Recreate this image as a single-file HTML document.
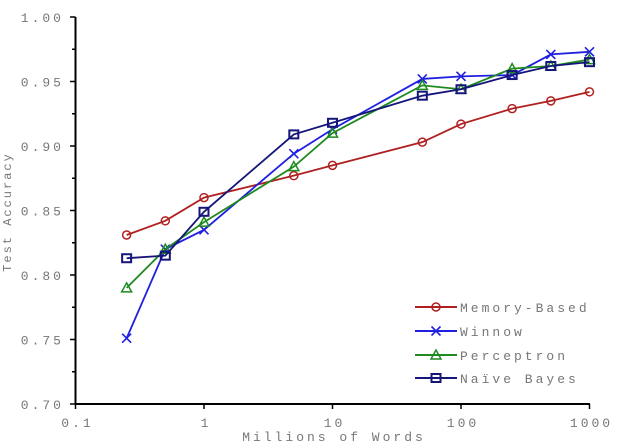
<!DOCTYPE html>
<html><head><meta charset="utf-8"><style>
html,body{margin:0;padding:0;background:#fff;width:640px;height:447px;overflow:hidden}
text{font-family:"Liberation Mono",monospace;fill:#777;letter-spacing:3px}
</style></head><body>
<svg id="s" width="640" height="447" xmlns="http://www.w3.org/2000/svg"></svg>
<script>
const s=document.getElementById('s');
const X=v=>75.5+128.5*(Math.log10(v)+1);
const Y=v=>17+(1-v)/0.3*387;
let h='';
h+='<line x1="75.5" y1="17" x2="75.5" y2="404" stroke="#000" stroke-width="2"/>';
h+='<line x1="75.5" y1="404" x2="590" y2="404" stroke="#000" stroke-width="2"/>';
for(let i=0;i<=12;i++){const v=0.7+i*0.025,y=Y(v);const maj=i%2==0;
h+=`<line x1="${maj?70:72}" y1="${y}" x2="75.5" y2="${y}" stroke="#000" stroke-width="1.5"/>`;
if(maj)h+=`<text x="64" y="${y+5}" font-size="13" text-anchor="end">${v.toFixed(2)}</text>`;}
[0.1,1,10,100,1000].forEach(v=>{const x=X(v);h+=`<line x1="${x}" y1="404" x2="${x}" y2="409" stroke="#000" stroke-width="1.5"/><text x="${x+2}" y="427" font-size="13" text-anchor="middle">${v}</text>`;});
h+='<text x="334" y="441" font-size="13" text-anchor="middle">Millions of Words</text>';
h+='<text transform="translate(11,212) rotate(-90)" font-size="12" text-anchor="middle" style="letter-spacing:2px">Test Accuracy</text>';
const xs=[0.25,0.5,1,5,10,50,100,250,500,1000];
const S=[
['Memory-Based','#b02020','o',[.831,.842,.860,.877,.885,.903,.917,.929,.935,.942]],
['Winnow','#2020e0','x',[.751,.820,.835,.894,.913,.952,.954,.955,.971,.973]],
['Perceptron','#1f8a1f','t',[.790,.820,.841,.884,.910,.947,.944,.960,.962,.967]],
['Naïve Bayes','#15157a','s',[.813,.815,.849,.909,.918,.939,.944,.955,.962,.965]]];
function mk(m,x,y,c){
 if(m=='o')return `<circle cx="${x}" cy="${y}" r="4" fill="none" stroke="${c}" stroke-width="1.5"/>`;
 if(m=='x')return `<path d="M${x-4.5} ${y-4.5}L${x+4.5} ${y+4.5}M${x-4.5} ${y+4.5}L${x+4.5} ${y-4.5}" stroke="${c}" stroke-width="1.6"/>`;
 if(m=='t')return `<path d="M${x} ${y-5}L${x+5} ${y+4}L${x-5} ${y+4}Z" fill="none" stroke="${c}" stroke-width="1.5"/>`;
 return `<rect x="${x-4.5}" y="${y-4}" width="9" height="8" fill="none" stroke="${c}" stroke-width="2"/>`;}
S.forEach((sr,k)=>{const[n,c,m,d]=sr;
 h+=`<polyline fill="none" stroke="${c}" stroke-width="1.8" points="${d.map((v,i)=>X(xs[i])+','+Y(v)).join(' ')}"/>`;
 d.forEach((v,i)=>h+=mk(m,X(xs[i]),Y(v),c));
 const ly=[307,331,355,378][k];
 h+=`<line x1="415" y1="${ly}" x2="457" y2="${ly}" stroke="${c}" stroke-width="2"/>`+mk(m,436,ly,c);
 h+=`<text x="460" y="${ly+5}" font-size="13">${n}</text>`;});
s.innerHTML=h;
</script>
</body></html>
